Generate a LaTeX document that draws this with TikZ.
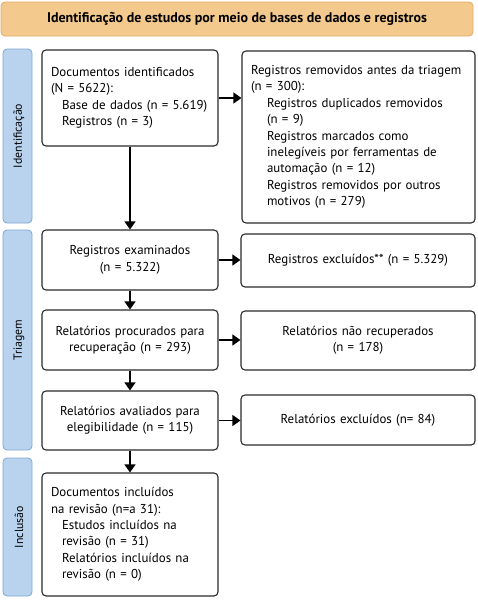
\documentclass[tikz,border=0pt]{standalone}
\usepackage{fontspec}
\setmainfont{PT Sans}
\usetikzlibrary{arrows.meta}
\definecolor{hdrfill}{HTML}{F4C98D}
\definecolor{hdrdraw}{HTML}{E2AA62}
\definecolor{sidefill}{HTML}{B9D3EE}
\definecolor{sidedraw}{HTML}{7EA6D6}
\definecolor{boxdraw}{HTML}{2B2B2B}
\tikzset{
  fs/.style={font=\fontsize{12.9}{16.4}\selectfont},
  hdr/.style={draw=hdrdraw, fill=hdrfill, line width=0.8pt, rounded corners=4pt, inner sep=0pt,
    font=\fontsize{14}{16}\selectfont\bfseries},
  side/.style={draw=sidedraw, fill=sidefill, line width=0.8pt, rounded corners=4pt, inner sep=0pt,
    minimum width=29pt},
  sidetext/.style={rotate=90, font=\fontsize{11.8}{14}\selectfont},
  lbox/.style={draw=boxdraw, fill=white, line width=1.1pt, rounded corners=4pt, fs,
    inner xsep=9pt, inner ysep=0pt, align=left},
  cbox/.style={draw=boxdraw, fill=white, line width=1.1pt, rounded corners=4pt, fs,
    inner xsep=6pt, inner ysep=0pt, align=center},
  arr/.style={draw=black, line width=1.1pt, -{Triangle[width=11pt,length=8pt]}}
}
\begin{document}
\begin{tikzpicture}[x=1pt,y=-1pt]
\useasboundingbox (0,0) rectangle (478,600);
% header
\node[hdr, minimum width=472pt, minimum height=34pt] (hdr) at (237,19) {Identificação de estudos por meio de bases de dados e registros};
% side labels
\node[side, minimum height=174pt] (sid) at (17.5,136) {};
\node[sidetext] (sidt) at ([xshift=1.5pt]sid.center) {Identificação};
\node[side, minimum height=220pt] (stri) at (17.5,340) {};
\node[sidetext] (strit) at ([xshift=1.5pt]stri.center) {Triagem};
\node[side, minimum height=138pt] (sinc) at (17.5,527) {};
\node[sidetext] (sinct) at ([xshift=1.5pt]sinc.center) {Inclusão};
% left column
\node[lbox, text width=158pt, minimum height=96pt] (l1) at (130,98) {Documentos identificados\\(N = 5622):\\\hspace*{11pt}Base de dados (n = 5.619)\\\hspace*{11pt}Registros (n = 3)};
\node[cbox, text width=164pt, minimum height=60pt] (l2) at (130,260) {Registros examinados\\(n = 5.322)};
\node[cbox, text width=164pt, minimum height=60pt] (l3) at (130,340) {Relatórios procurados para\\recuperação (n = 293)};
\node[cbox, text width=164pt, minimum height=59pt] (l4) at (130,420.5) {Relatórios avaliados para\\elegibilidade (n = 115)};
\node[lbox, text width=158pt, minimum height=123pt] (l5) at (130,534.5) {Documentos incluídos\\na revisão (n=a 31):\\\hspace*{11pt}Estudos incluídos na\\\hspace*{11pt}revisão (n = 31)\\\hspace*{11pt}Relatórios incluídos na\\\hspace*{11pt}revisão (n = 0)};
% right column
\node[lbox, text width=215pt, minimum height=172pt] (r1) at (358.5,137) {Registros removidos antes da triagem\\(n = 300):\\\hspace*{16pt}Registros duplicados removidos\\\hspace*{16pt}(n = 9)\\\hspace*{16pt}Registros marcados como\\\hspace*{16pt}inelegíveis por ferramentas de\\\hspace*{16pt}automação (n = 12)\\\hspace*{16pt}Registros removidos por outros\\\hspace*{16pt}motivos (n = 279)};
\node[cbox, text width=222pt, minimum height=53pt] (r2) at (358,260.5) {Registros excluídos** (n = 5.329)};
\node[cbox, text width=222pt, minimum height=59pt] (r3) at (358,340.5) {Relatórios não recuperados\\(n = 178)};
\node[cbox, text width=222pt, minimum height=50pt] (r4) at (358,420) {Relatórios excluídos (n= 84)};
% arrows
\draw[arr] (l1) -- (l2);
\draw[arr] (l2) -- (l3);
\draw[arr] (l3) -- (l4);
\draw[arr] (l4) -- (l5);
\draw[arr] (l1.east) -- (l1.east -| r1.west);
\draw[arr] (l2.east) -- (l2.east -| r2.west);
\draw[arr] (l3.east) -- (l3.east -| r3.west);
\draw[arr] (l4.east) -- (l4.east -| r4.west);
\end{tikzpicture}
\end{document}
